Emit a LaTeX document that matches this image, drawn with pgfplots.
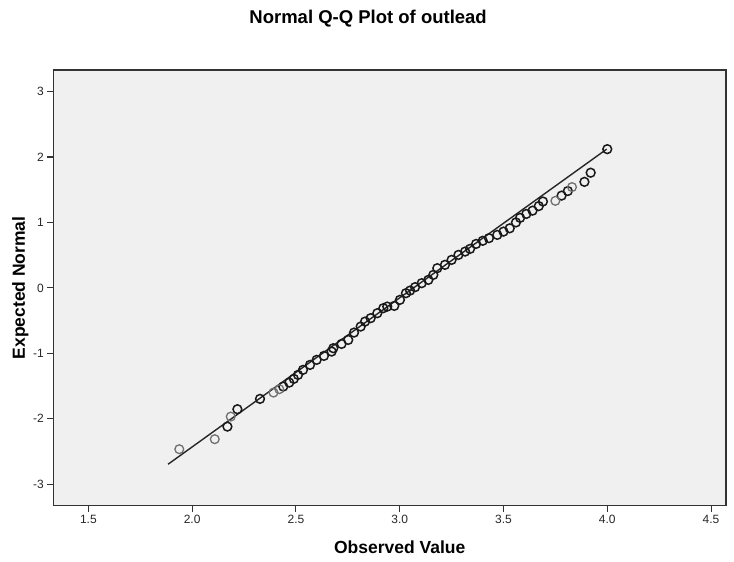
\documentclass[border=0pt]{standalone}
\usepackage{pgfplots}
\pgfplotsset{compat=1.18}
\usepackage{fontspec}
\setmainfont{Liberation Sans}

\definecolor{panel}{HTML}{F0F0F0}
\definecolor{frame}{HTML}{333333}
\definecolor{lightpt}{HTML}{707070}

\begin{document}
\begin{tikzpicture}
\begin{axis}[
  scale only axis,
  width=673pt, height=436pt,
  xmin=1.331, xmax=4.572,
  ymin=-3.33, ymax=3.33,
  axis background/.style={fill=panel},
  axis line style={frame, line width=1.3pt},
  xtick={1.5,2.0,...,4.5},
  ytick={-3,-2,...,3},
  xtick pos=bottom, ytick pos=left,
  tick align=outside,
  major tick length=6pt,
  tick style={frame, line width=1.1pt},
  /pgf/number format/assume math mode=true,
  xticklabel style={/pgf/number format/.cd, fixed, fixed zerofill, precision=1},
  ticklabel style={font=\fontsize{12}{14}\selectfont, text=black!85},
  xlabel={Observed Value},
  ylabel={Expected Normal},
  label style={font=\fontsize{17.5}{20}\selectfont\bfseries},
  xlabel style={at={(axis description cs:0.515,-0.096)}, anchor=center},
  ylabel style={at={(axis description cs:-0.049,0.5)}, anchor=center},
  title={Normal Q-Q Plot of outlead},
  title style={at={(axis description cs:0.468,1.103)}, anchor=center,
               font=\fontsize{18.5}{21}\selectfont\bfseries},
  clip=false,
]
% reference line through the normal quantiles
\addplot[black!85, line width=1.4pt] coordinates {(1.884,-2.695) (3.997,2.12)};

% observed values against expected normal scores (darker circles)
\addplot[only marks, mark=o, mark size=4.4pt,
         mark options={line width=1.5pt, draw=black!90}] coordinates {
(2.170,-2.120) (2.218,-1.854) (2.327,-1.696) (2.439,-1.508) (2.468,-1.447)
(2.490,-1.390) (2.510,-1.330) (2.534,-1.253) (2.568,-1.177) (2.600,-1.100)
(2.635,-1.039) (2.672,-0.973) (2.680,-0.922) (2.720,-0.856) (2.752,-0.795)
(2.780,-0.683) (2.812,-0.591) (2.833,-0.515) (2.860,-0.463) (2.892,-0.387)
(2.921,-0.310) (2.940,-0.286) (2.974,-0.275) (3.001,-0.183) (3.030,-0.081)
(3.050,-0.041) (3.074,0.011) (3.106,0.072) (3.138,0.122) (3.162,0.199)
(3.181,0.301) (3.218,0.352) (3.250,0.428) (3.283,0.504) (3.315,0.555)
(3.339,0.596) (3.368,0.672) (3.400,0.720) (3.430,0.760) (3.470,0.810)
(3.500,0.860) (3.530,0.910) (3.560,1.000) (3.580,1.070) (3.610,1.130)
(3.640,1.180) (3.670,1.250) (3.690,1.320) (3.780,1.410) (3.810,1.480)
(3.890,1.620) (3.920,1.760) (4.000,2.120)
};

% lighter circles
\addplot[only marks, mark=o, mark size=4.4pt,
         mark options={line width=1.3pt, draw=lightpt}] coordinates {
(1.938,-2.465) (2.109,-2.312) (2.186,-1.967) (2.392,-1.600) (2.420,-1.548)
(3.750,1.330) (3.830,1.540)
};
\end{axis}
% page extent around the plot frame
\path (-53.3pt,-56pt) rectangle (681pt,506pt);
\end{tikzpicture}
\end{document}
